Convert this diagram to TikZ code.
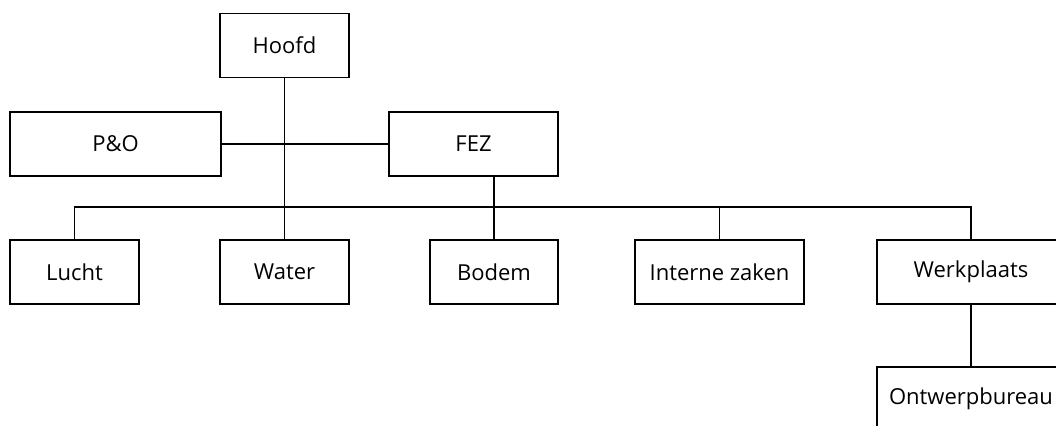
\documentclass[tikz,border=0pt]{standalone}
\usepackage{fontspec}
\setmainfont{Open Sans}

\begin{document}
\begin{tikzpicture}[x=0.5pt, y=-0.5pt, line width=0.6pt]
	\tikzstyle{Element} = [draw=black, minimum height=32pt, inner sep=0pt, font=\fontsize{11}{13}\selectfont, node distance=63.5pt]
	
	\useasboundingbox (0,0) rectangle (1056,425);
	\clip (0,0) rectangle (1056,425);
	
	\node[name=hoofd, Element, minimum width=64.5pt] at (284.5,45.5) {Hoofd};
	\node[name=po, Element, minimum width=105.5pt] at (115.5,144) {P\&O};
	\node[name=fez, Element, minimum width=84.5pt] at (473.5,144) {FEZ};
	
	\node[name=lucht, Element, minimum width=64.5pt] at (74.5,272) {Lucht};
	\node[name=water, Element, minimum width=64.5pt] at (284.5,272) {Water};
	\node[name=bodem, Element, minimum width=64pt] at (494,272) {Bodem};
	\node[name=interne, Element, minimum width=84.5pt] at (719.5,272) {Interne zaken};
	\node[name=werkplaats, Element, minimum width=94pt] at (971,272) {Werkplaats};
	\node[name=ontwerp, below of=werkplaats, Element, minimum width=94pt]{Ontwerpbureau};
	
	\coordinate (bus) at (0,207);
	
	\draw (hoofd.south) -- (water.north);
	\draw (po.east) -- (fez.west);
	\draw (bodem.north) -- (bodem.north |- fez.south);
	\draw (lucht.north) -- (lucht.north |- bus) -- (werkplaats.north |- bus) -- (werkplaats.north);
	\draw (interne.north) -- (interne.north |- bus);
	\draw (werkplaats.south) -- (ontwerp.north);
\end{tikzpicture}
\end{document}
